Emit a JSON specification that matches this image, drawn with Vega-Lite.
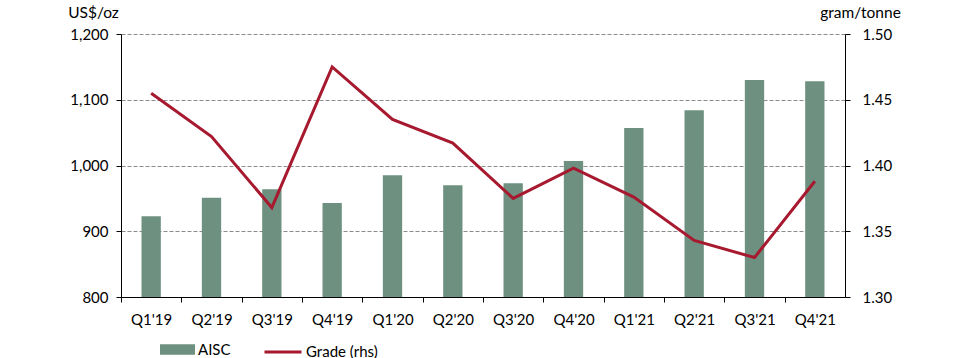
{
  "$schema": "https://vega.github.io/schema/vega-lite/v6.json",
  "width": 724,
  "height": 263,
  "autosize": "none",
  "padding": {"left": 121, "top": 34, "right": 114, "bottom": 61},
  "background": "white",
  "config": {
    "view": {"stroke": null},
    "font": "Lato",
    "axis": {"labelFont": "Lato", "titleFont": "Lato", "labelColor": "#000", "titleColor": "#000", "labelFontSize": 15, "titleFontSize": 15.5, "titleFontWeight": "normal", "domainColor": "#000", "tickColor": "#000", "tickSize": 5}
  },
  "data": {"values": [
    {"q": "Q1'19", "aisc": 923, "grade": 1.455},
    {"q": "Q2'19", "aisc": 951, "grade": 1.422},
    {"q": "Q3'19", "aisc": 964, "grade": 1.368},
    {"q": "Q4'19", "aisc": 943, "grade": 1.475},
    {"q": "Q1'20", "aisc": 985, "grade": 1.435},
    {"q": "Q2'20", "aisc": 970, "grade": 1.417},
    {"q": "Q3'20", "aisc": 973, "grade": 1.375},
    {"q": "Q4'20", "aisc": 1007, "grade": 1.398},
    {"q": "Q1'21", "aisc": 1057, "grade": 1.376},
    {"q": "Q2'21", "aisc": 1084, "grade": 1.343},
    {"q": "Q3'21", "aisc": 1130, "grade": 1.330},
    {"q": "Q4'21", "aisc": 1128, "grade": 1.388}
  ]},
  "encoding": {
    "x": {"field": "q", "type": "nominal", "sort": null,
      "scale": {"paddingInner": 0.68, "paddingOuter": 0.34},
      "axis": {"title": null, "labelAngle": 0, "tickOffset": -30.17, "labelOffset": 30.17, "labelPadding": 10, "domainWidth": 1}}
  },
  "layer": [
    {
      "mark": {"type": "bar", "clip": true},
      "encoding": {
        "y": {"field": "aisc", "type": "quantitative",
          "scale": {"domain": [800, 1200], "zero": false, "nice": false},
          "axis": {"title": "US$/oz", "titleAngle": 0, "titleAlign": "center", "titleBaseline": "middle", "titleX": -28, "titleY": -22,
            "values": [800, 900, 1000, 1100, 1200], "format": ",d", "labelPadding": 8,
            "grid": true, "gridColor": "#8c8c8c", "gridDash": [4, 2], "gridWidth": 1}},
        "y2": {"datum": 800},
        "fill": {"datum": "AISC", "type": "nominal", "scale": {"range": ["#6E9080"]},
          "legend": {"title": null, "orient": "none", "legendX": 39, "legendY": 298, "symbolType": "M-1,-0.3H1V0.3H-1Z", "symbolSize": 1225, "symbolStrokeWidth": 0, "labelFontSize": 15, "labelFont": "Lato", "labelOffset": 3, "labelColor": "#000"}}
      }
    },
    {
      "mark": {"type": "line", "strokeWidth": 3},
      "encoding": {
        "y": {"field": "grade", "type": "quantitative",
          "scale": {"domain": [1.3, 1.5], "zero": false, "nice": false},
          "axis": {"orient": "right", "title": "gram/tonne", "titleAngle": 0, "titleAlign": "center", "titleBaseline": "middle", "titleX": 15, "titleY": -22,
            "values": [1.3, 1.35, 1.4, 1.45, 1.5], "format": ".2f", "labelPadding": 12, "grid": false}},
        "stroke": {"datum": "Grade (rhs)", "type": "nominal", "scale": {"range": ["#A6192E"]},
          "legend": {"title": null, "orient": "none", "legendX": 142, "legendY": 298, "symbolType": "stroke", "symbolSize": 1369, "symbolStrokeWidth": 3, "labelFontSize": 15, "labelFont": "Lato", "labelOffset": 3, "labelColor": "#000", "labelLimit": 300}}
      }
    }
  ],
  "resolve": {"scale": {"y": "independent", "fill": "independent", "stroke": "independent"}}
}
